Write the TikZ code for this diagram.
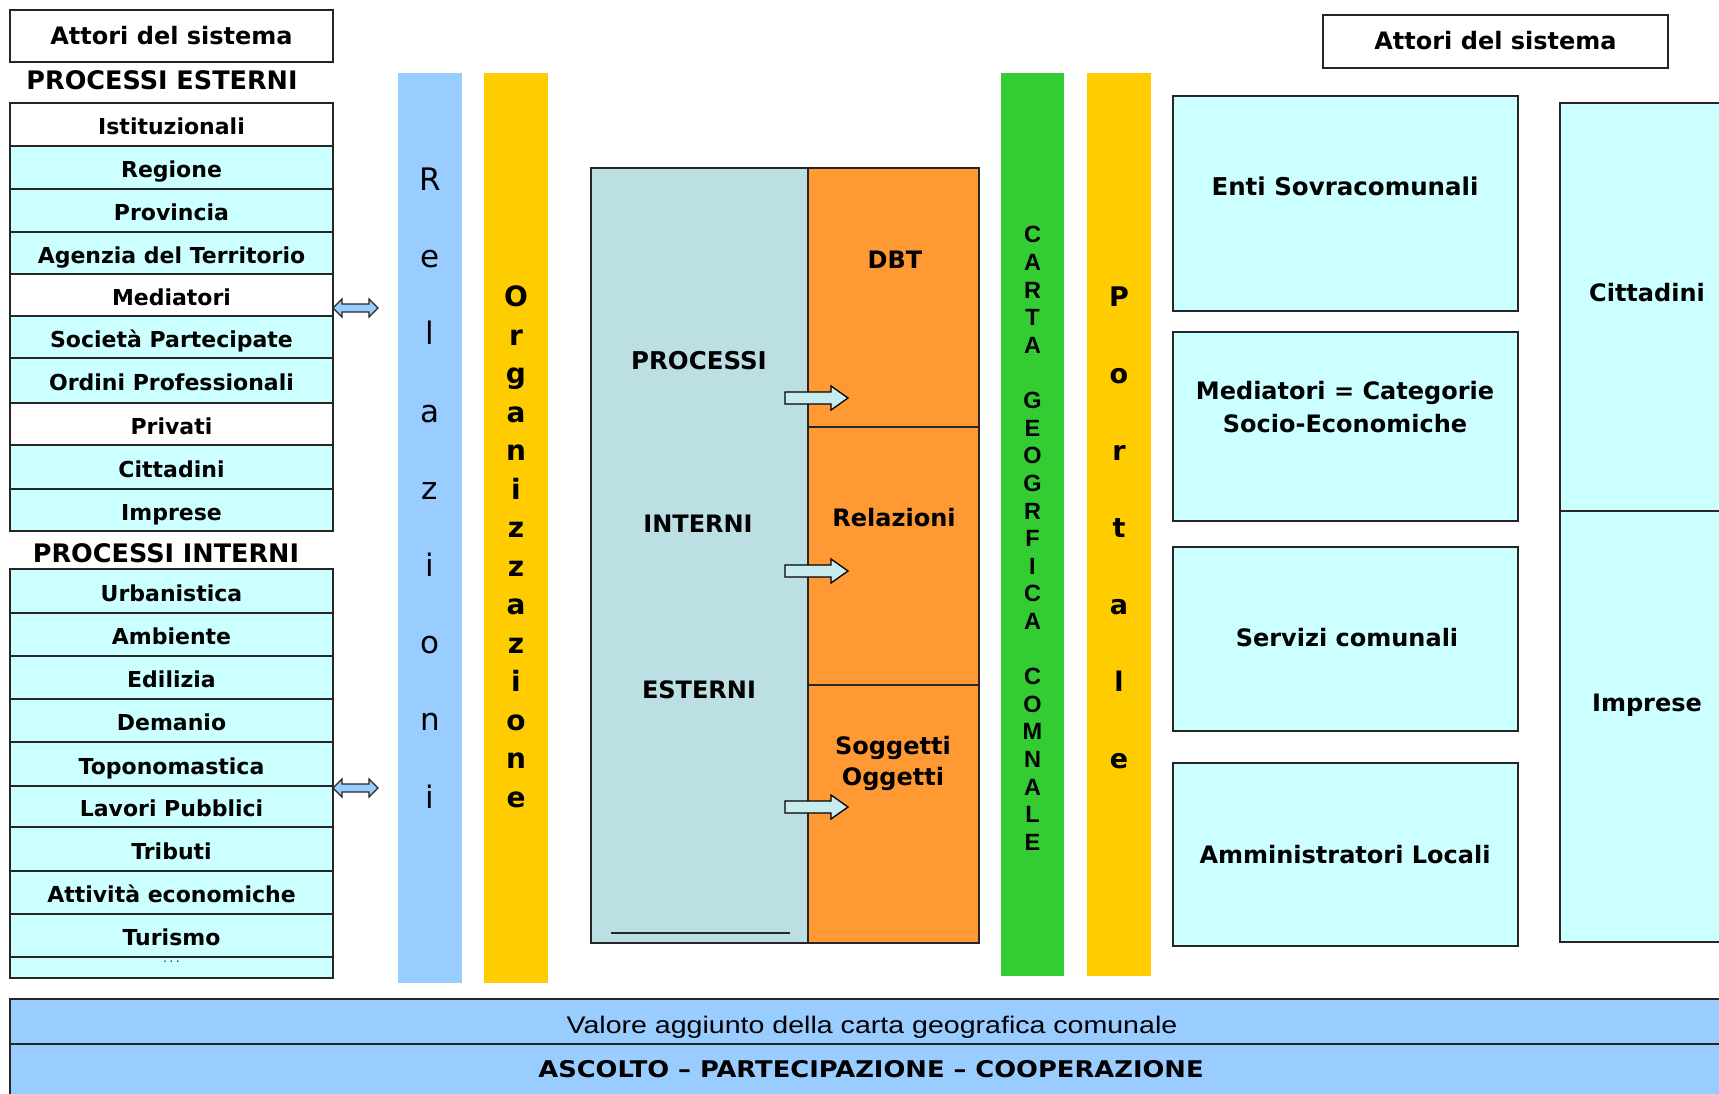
\documentclass[tikz,border=0pt]{standalone}
\usepackage{fontspec}
\usepackage{graphicx}
\setmainfont{DejaVu Sans}
\newfontfamily\lib{Liberation Sans}
\definecolor{cyanrow}{HTML}{CCFFFF}
\definecolor{relblue}{HTML}{99CCFF}
\definecolor{orgyel}{HTML}{FFCC00}
\definecolor{cartagreen}{HTML}{33CC33}
\definecolor{procblue}{HTML}{BBDFE3}
\definecolor{dborange}{HTML}{FF9933}
\definecolor{arrfill}{HTML}{C6ECEE}
\begin{document}
\begin{tikzpicture}[x=1pt,y=-1pt,
  frame/.style={draw=black!85, line width=1.6pt},
  tsmall/.style={font=\fontsize{22}{26}\selectfont\bfseries, text height=16pt, text depth=0pt, inner sep=0pt},
  tmid/.style={font=\fontsize{24}{28}\selectfont\bfseries, text height=17.5pt, text depth=0pt, inner sep=0pt},
  ttitle/.style={font=\fontsize{25.5}{28}\selectfont\bfseries, text height=18.5pt, text depth=0pt, inner sep=0pt},
  tbig/.style={font=\fontsize{24.5}{28}\selectfont\bfseries, text height=18pt, text depth=0pt, inner sep=0pt},
  vrel/.style={font=\fontsize{31}{36}\selectfont, anchor=base, inner sep=0pt},
  vorg/.style={font=\fontsize{28}{32}\selectfont\bfseries, anchor=base, inner sep=0pt},
  vpor/.style={font=\fontsize{27}{30}\selectfont\bfseries, anchor=base, inner sep=0pt},
  vcar/.style={font=\lib\fontsize{23.5}{26}\selectfont\bfseries, anchor=base, inner sep=0pt},
  blockarrow/.style={draw=black, line width=1.3pt, fill=arrfill},
  dblarrow/.style={draw=black!85, line width=1.2pt, fill=relblue}]
\useasboundingbox (0,0) rectangle (1719,1094);
\clip (0,0) rectangle (1719,1094);
\fill[white] (0,0) rectangle (1719,1094);

% ---------- left column ----------
\path[frame, fill=white] (10,10) rectangle (333,62);
\node[tmid] (attL) at (171.5,36) {Attori del sistema};
\node[ttitle] (procEst) at (162,80) {PROCESSI ESTERNI};

\foreach \n/\a/\b/\c/\t in {
  e1/103/146/white/Istituzionali,
  e2/146/189/cyanrow/Regione,
  e3/189/232/cyanrow/Provincia,
  e4/232/274/cyanrow/Agenzia del Territorio,
  e5/274/316/white/Mediatori,
  e6/316/358/cyanrow/Società Partecipate,
  e7/358/403/cyanrow/Ordini Professionali,
  e8/403/445/white/Privati,
  e9/445/489/cyanrow/Cittadini,
  e10/489/531/cyanrow/Imprese}{
  \path[frame, fill=\c] (10,\a) rectangle (333,\b);
  \node[tsmall] (\n) at (171.5,{(\a+\b)/2+2}) {\t};
}

\node[ttitle] (procInt) at (166,553) {PROCESSI INTERNI};

\foreach \n/\a/\b/\t in {
  i1/569/613/Urbanistica,
  i2/613/656/Ambiente,
  i3/656/699/Edilizia,
  i4/699/742/Demanio,
  i5/742/786/Toponomastica,
  i6/786/827/Lavori Pubblici,
  i7/827/871/Tributi,
  i8/871/914/Attività economiche,
  i9/914/957/Turismo}{
  \path[frame, fill=cyanrow] (10,\a) rectangle (333,\b);
  \node[tsmall] (\n) at (171.5,{(\a+\b)/2+2}) {\t};
}
\path[frame, fill=cyanrow] (10,957) rectangle (333,978);
\node[font=\fontsize{11}{12}\selectfont, inner sep=0pt] (idots) at (171.5,963) {·\hspace{3pt}·\hspace{3pt}·};

% double arrows
\path[dblarrow] (333,308) -- (342,299) -- (342,304) -- (369,304) -- (369,299) -- (378,308)
  -- (369,317) -- (369,312) -- (342,312) -- (342,317) -- cycle;
\path[dblarrow] (333,788) -- (342,779) -- (342,784) -- (369,784) -- (369,779) -- (378,788)
  -- (369,797) -- (369,792) -- (342,792) -- (342,797) -- cycle;

% ---------- vertical bars ----------
\fill[relblue] (398,73) rectangle (462,983);
\fill[orgyel] (484,73) rectangle (548,983);
\fill[cartagreen] (1001,73) rectangle (1064,976);
\fill[orgyel] (1087,73) rectangle (1151,976);

\foreach \l [count=\i from 0] in {R,e,l,a,z,i,o,n,i}
  \node[vrel] (rel\i) at (430,{190.5+77.2*\i}) {\l};
\foreach \l [count=\i from 0] in {O,r,g,a,n,i,z,z,a,z,i,o,n,e}
  \node[vorg] (org\i) at (516,{306.5+38.5*\i}) {\l};
\foreach \l [count=\i from 0] in {P,o,r,t,a,l,e}
  \node[vpor] (por\i) at (1119,{306+77*\i}) {\l};
\foreach \l [count=\i from 0] in {C,A,R,T,A,{},G,E,O,G,R,F,I,C,A,{},C,O,M,N,A,L,E}
  \node[vcar] (car\i) at (1032.5,{243+27.6*\i}) {\l};

% ---------- central block ----------
\path[frame, fill=procblue] (591,168) rectangle (808,943);
\path[frame, fill=dborange] (808,168) rectangle (979,427);
\path[frame, fill=dborange] (808,427) rectangle (979,685);
\path[frame, fill=dborange] (808,685) rectangle (979,943);
\draw[line width=1.6pt, black!85] (611,933) -- (790,933);

\node[tbig] (cProc) at (699,360) {PROCESSI};
\node[tmid] (cInt) at (698,524) {INTERNI};
\node[tmid] (cEst) at (699,690) {ESTERNI};
\node[tmid] (cDbt) at (895,260) {DBT};
\node[tmid] (cRel) at (894,518) {Relazioni};
\node[tmid] (cSog) at (893,746) {Soggetti};
\node[tmid] (cOgg) at (893,777) {Oggetti};

\foreach \yc in {398,571,807}
  \path[blockarrow] (785,\yc-6) -- (831,\yc-6) -- (831,\yc-12) -- (848,\yc)
    -- (831,\yc+12) -- (831,\yc+6) -- (785,\yc+6) -- cycle;

% ---------- right side ----------
\path[frame, fill=white] (1323,15) rectangle (1668,68);
\node[tmid] (attR) at (1495.5,41) {Attori del sistema};

\path[frame, fill=cyanrow] (1173,96) rectangle (1518,311);
\path[frame, fill=cyanrow] (1173,332) rectangle (1518,521);
\path[frame, fill=cyanrow] (1173,547) rectangle (1518,731);
\path[frame, fill=cyanrow] (1173,763) rectangle (1518,946);
\node[tbig] (rEnti) at (1345,187) {Enti Sovracomunali};
\node[tmid] (rMed1) at (1345,391) {Mediatori = Categorie};
\node[tmid] (rMed2) at (1345,424) {Socio-Economiche};
\node[tmid] (rServ) at (1347,638) {Servizi comunali};
\node[tmid] (rAmm) at (1345,855) {Amministratori Locali};

\path[frame, fill=cyanrow] (1560,103) rectangle (1740,511);
\path[frame, fill=cyanrow] (1560,511) rectangle (1740,942);
\node[tmid] (rCit) at (1647,293) {Cittadini};
\node[tmid] (rImp) at (1647,703) {Imprese};

% ---------- bottom bar ----------
\path[frame, fill=relblue] (10,999) rectangle (1740,1044);
\path[frame, fill=relblue] (10,1044) rectangle (1740,1120);
\node[inner sep=0pt, text height=17pt, text depth=0pt] (valore) at (872,1025)
  {\scalebox{1.19}[1]{\lib\fontsize{24}{28}\selectfont Valore aggiunto della carta geografica comunale}};
\node[inner sep=0pt, text height=17pt, text depth=0pt] (ascolto) at (871,1069)
  {\scalebox{1.12}[1]{\fontsize{23}{26}\selectfont\bfseries ASCOLTO – PARTECIPAZIONE – COOPERAZIONE}};
\end{tikzpicture}
\end{document}
